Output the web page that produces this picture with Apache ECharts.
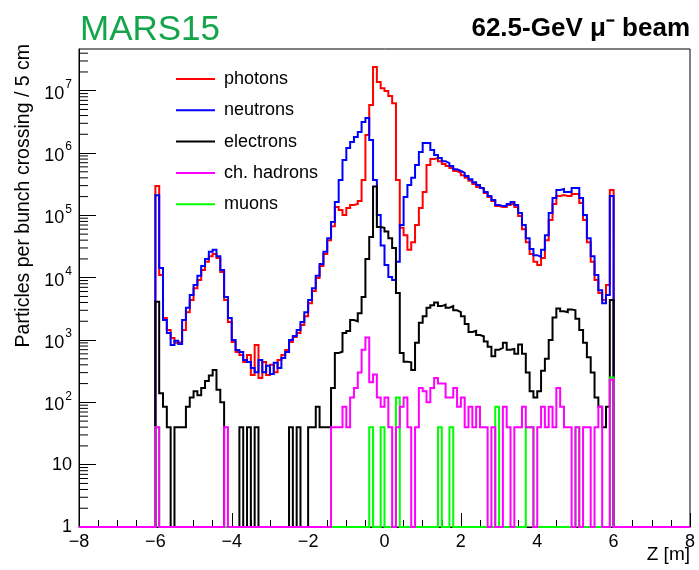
<!DOCTYPE html>
<html>
<head>
<meta charset="utf-8">
<script src="https://cdn.jsdelivr.net/npm/echarts@6/dist/echarts.min.js"></script>
<style>
  html, body { margin: 0; padding: 0; background: #ffffff; }
  #chart { width: 699px; height: 570px; }
</style>
</head>
<body>
<div id="chart"></div>
<script>
// Histogram binning: 10 cm bins from Z = -6 m to Z = +6 m
const zStart = -6;
const binWidth = 0.1;
const zMin = -8;
const zMax = 8;
const yMin = 1;
const yMax = 4.67e7;

// Particles per bunch crossing / 5 cm, one value per bin (0 = empty bin)
const photons = [
  2.96e5, 1.1e4, 2.25e3, 1.45e3, 1.08e3, 900, 930, 1.45e3, 2.8e3, 4.4e3,
  6.8e3, 9.2e3, 1.33e4, 1.8e4, 2.2e4, 2.4e4, 2.07e4, 1.23e4, 4.4e3, 1.95e3,
  930, 640, 575, 445, 575, 275, 830, 245, 445, 275,
  400, 305, 480, 575, 690, 930, 1.12e3, 1.3e3, 1.74e3, 2.4e3,
  3.9e3, 6.1e3, 9.9e3, 1.54e4, 2.4e4, 4.0e4, 6.7e4, 1.36e5, 1.22e5, 1.01e5,
  1.31e5, 1.47e5, 1.52e5, 1.7e5, 3.7e5, 1.95e6, 5.9e6, 2.4e7, 1.38e7, 1.1e7,
  9.9e6, 8.2e6, 6.3e6, 3.7e5, 6.3e4, 4.8e4, 2.8e4, 3.7e4, 7.0e4, 1.31e5,
  2.37e5, 6.4e5, 8.0e5, 8.3e5, 7.4e5, 6.7e5, 6.2e5, 5.75e5, 5.15e5, 4.8e5,
  4.4e5, 4.0e5, 3.6e5, 3.2e5, 2.85e5, 2.65e5, 2.28e5, 1.97e5, 1.7e5, 1.41e5,
  1.36e5, 1.36e5, 1.47e5, 1.58e5, 1.36e5, 9.8e4, 6.0e4, 3.7e4, 2.4e4, 1.8e4,
  1.6e4, 2.07e4, 4.0e4, 8.4e4, 1.52e5, 2.04e5, 2.12e5, 2.04e5, 2.04e5, 2.2e5,
  2.2e5, 1.58e5, 8.4e4, 3.7e4, 1.8e4, 9.2e3, 5.7e3, 4.4e3, 7.6e3, 2.55e5
];

const neutrons = [
  2.1e5, 1.43e4, 2.1e3, 1.3e3, 830, 970, 860, 2.1e3, 3.3e3, 5.3e3,
  7.6e3, 1.07e4, 1.54e4, 2.0e4, 2.6e4, 2.8e4, 2.2e4, 1.33e4, 4.9e3, 2.25e3,
  1.0e3, 690, 640, 480, 445, 355, 305, 480, 305, 385,
  285, 430, 355, 515, 640, 1.0e3, 1.16e3, 1.45e3, 1.95e3, 2.8e3,
  4.4e3, 6.8e3, 1.07e4, 1.66e4, 2.6e4, 4.3e4, 7.8e4, 1.64e5, 3.7e5, 7.7e5,
  1.2e6, 1.5e6, 1.81e6, 2.17e6, 3.15e6, 3.65e6, 1.62e6, 3.7e5, 1.01e5, 3.3e4,
  1.6e4, 1.03e4, 9.2e3, 1.8e4, 7.0e4, 1.97e5, 3.07e5, 4.0e5, 6.4e5, 1.04e6,
  1.45e6, 1.45e6, 1.12e6, 9.3e5, 8.3e5, 7.4e5, 6.9e5, 6.2e5, 5.5e5, 5.15e5,
  4.8e5, 4.3e5, 3.8e5, 3.4e5, 3.07e5, 2.75e5, 2.37e5, 2.04e5, 1.76e5, 1.47e5,
  1.41e5, 1.41e5, 1.52e5, 1.64e5, 1.47e5, 1.09e5, 7.0e4, 4.3e4, 2.9e4, 2.3e4,
  2.15e4, 2.8e4, 4.8e4, 1.09e5, 1.9e5, 2.55e5, 2.65e5, 2.37e5, 2.37e5, 2.75e5,
  2.75e5, 1.9e5, 1.01e5, 4.3e4, 2.2e4, 1.1e4, 6.3e3, 3.9e3, 5.3e3, 2.04e5
];

const electrons = [
  4100, 140, 85, 40, 0, 40, 40, 40, 85, 120,
  150, 130, 170, 220, 270, 330, 160, 100, 0, 0,
  0, 0, 40, 0, 40, 0, 40, 0, 0, 0,
  0, 0, 0, 0, 0, 40, 0, 40, 0, 0,
  40, 40, 85, 40, 40, 40, 170, 620, 650, 1300,
  1400, 2100, 2000, 2700, 4900, 2.0e4, 4.5e4, 2.9e5, 6.5e4, 6.3e4,
  5.5e4, 4.3e4, 3.0e4, 5700, 620, 450, 440, 330, 900, 1900,
  2400, 3300, 3600, 4000, 3500, 3700, 3300, 3500, 3000, 2800,
  2400, 1800, 1350, 1400, 1200, 1150, 950, 780, 550, 700,
  750, 900, 700, 720, 600, 850, 600, 300, 150, 120,
  150, 320, 500, 1000, 2300, 3200, 2900, 2800, 3100, 3000,
  2200, 1450, 900, 530, 300, 120, 85, 40, 85, 4400
];

const chHadrons = [
  40, 0, 0, 0, 0, 0, 0, 0, 0, 0,
  0, 0, 0, 0, 0, 0, 0, 0, 40, 0,
  0, 0, 0, 0, 0, 0, 0, 0, 0, 0,
  0, 0, 0, 0, 0, 0, 0, 0, 0, 0,
  0, 0, 0, 0, 0, 0, 40, 40, 40, 85,
  40, 120, 170, 300, 700, 1100, 210, 280, 120, 85,
  120, 40, 0, 40, 85, 120, 40, 0, 40, 170,
  150, 100, 170, 245, 200, 200, 120, 120, 170, 85,
  120, 40, 85, 40, 85, 40, 40, 0, 40, 0,
  0, 85, 40, 0, 40, 40, 85, 40, 40, 0,
  40, 85, 40, 85, 40, 170, 85, 40, 40, 0,
  40, 0, 40, 40, 0, 40, 85, 0, 0, 230
];

const muons = [
  40, 0, 0, 0, 0, 0, 0, 0, 0, 0,
  0, 0, 0, 0, 0, 0, 0, 0, 0, 0,
  0, 0, 0, 0, 0, 0, 0, 0, 0, 0,
  0, 0, 0, 0, 0, 0, 0, 0, 0, 0,
  0, 0, 0, 0, 0, 0, 0, 0, 0, 0,
  0, 0, 0, 0, 0, 0, 40, 0, 0, 40,
  0, 0, 0, 120, 0, 0, 0, 0, 0, 0,
  0, 0, 0, 0, 40, 0, 0, 40, 0, 0,
  0, 0, 0, 0, 0, 0, 0, 0, 0, 85,
  0, 0, 0, 0, 0, 0, 0, 40, 40, 0,
  0, 0, 0, 0, 0, 0, 0, 0, 0, 0,
  40, 0, 0, 0, 0, 0, 0, 0, 0, 250
];

const seriesNames = ['photons', 'neutrons', 'electrons', 'ch. hadrons', 'muons'];
const seriesColors = ['#ff0000', '#0000ff', '#000000', '#ff00ff', '#00ff00'];

const FONT = '"Liberation Sans", Arial, Helvetica, sans-serif';

// Step outline of a histogram; empty bins sit on the axis floor like a log-scale histogram
function histogramOutline(values) {
  const pts = [[zMin, yMin]];
  values.forEach(function (v, i) {
    pts.push([+(zStart + i * binWidth).toFixed(3), v > 0 ? v : yMin]);
  });
  pts.push([+(zStart + values.length * binWidth).toFixed(3), yMin]);
  pts.push([zMax, yMin]);
  return pts;
}

function histSeries(name, values, color) {
  return {
    name: name,
    type: 'line',
    step: 'end',
    data: histogramOutline(values),
    showSymbol: false,
    symbol: 'none',
    clip: false,
    lineStyle: { color: color, width: 2, join: 'miter' },
    itemStyle: { color: color },
    emphasis: { disabled: true },
    animation: false
  };
}

// Log-scale minor ticks at 2..9 x 10^k along the left axis
const minorTickValues = [];
for (let k = 0; k < 8; k++) {
  for (let m = 2; m <= 9; m++) {
    const v = m * Math.pow(10, k);
    if (v < yMax) minorTickValues.push([zMin, v]);
  }
}

const chart = echarts.init(document.getElementById('chart'), null, { renderer: 'canvas' });

const option = {
  animation: false,
  backgroundColor: '#ffffff',
  grid: {
    left: 79, top: 49, right: 9, bottom: 43,
    show: true, borderColor: '#000000', borderWidth: 1, backgroundColor: 'transparent'
  },
  legend: {
    data: seriesNames,
    orient: 'vertical',
    left: 176,
    top: 69,
    padding: 0,
    itemWidth: 39,
    itemHeight: 2,
    itemGap: 11.3,
    icon: 'rect',
    selectedMode: false,
    textStyle: { fontFamily: FONT, fontSize: 18, color: '#000000', lineHeight: 20, padding: [0, 0, 0, 4] }
  },
  xAxis: {
    type: 'value',
    min: zMin,
    max: zMax,
    interval: 2,
    axisLine: { show: true, onZero: false, lineStyle: { color: '#000000', width: 1 } },
    axisTick: { show: true, inside: true, length: 14, lineStyle: { color: '#000000', width: 1 } },
    minorTick: { show: true, splitNumber: 4, length: 7, lineStyle: { color: '#000000', width: 1 } },
    splitLine: { show: false },
    axisLabel: {
      fontFamily: FONT, fontSize: 18, color: '#000000', margin: 6,
      formatter: function (v) { return v < 0 ? '\u2212' + Math.abs(v) : String(v); }
    }
  },
  yAxis: {
    type: 'log',
    logBase: 10,
    min: yMin,
    max: yMax,
    axisLine: { show: true, onZero: false, lineStyle: { color: '#000000', width: 1 } },
    axisTick: { show: true, inside: true, length: 17, lineStyle: { color: '#000000', width: 1 } },
    splitLine: { show: false },
    axisLabel: {
      fontFamily: FONT, fontSize: 18, color: '#000000', margin: 7,
      showMaxLabel: false,
      formatter: function (v) {
        const e = Math.log10(v);
        if (Math.abs(e - Math.round(e)) > 1e-6) return '';
        const n = Math.round(e);
        if (n === 0) return '1';
        if (n === 1) return '10';
        return '{b|10}{s|' + n + '}';
      },
      rich: {
        b: { fontFamily: FONT, fontSize: 18, color: '#000000', lineHeight: 24, verticalAlign: 'bottom' },
        s: { fontFamily: FONT, fontSize: 12, color: '#000000', lineHeight: 24, verticalAlign: 'top', padding: [0, 0, 0, 1] }
      }
    }
  },
  series: [
    histSeries(seriesNames[0], photons, seriesColors[0]),
    histSeries(seriesNames[1], neutrons, seriesColors[1]),
    histSeries(seriesNames[2], electrons, seriesColors[2]),
    histSeries(seriesNames[4], muons, seriesColors[4]),
    histSeries(seriesNames[3], chHadrons, seriesColors[3]),
    {
      type: 'custom',
      silent: true,
      clip: false,
      data: minorTickValues,
      renderItem: function (params, api) {
        const p = api.coord([api.value(0), api.value(1)]);
        return {
          type: 'line',
          shape: { x1: p[0], y1: p[1], x2: p[0] + 9, y2: p[1] },
          style: { stroke: '#000000', lineWidth: 1 }
        };
      },
      animation: false
    }
  ],
  graphic: [
    {
      type: 'text', left: 80, top: 13,
      style: { text: 'MARS15', fill: '#14a54b', font: '35px ' + FONT }
    },
    {
      type: 'text', right: 9, top: 16,
      style: { text: '62.5-GeV \u03bc\u207b beam', fill: '#000000', font: 'bold 26px ' + FONT }
    },
    {
      type: 'text', right: 9, top: 545,
      style: { text: 'Z [m]', fill: '#000000', font: '19px ' + FONT }
    },
    {
      type: 'text', x: 24, y: 44, rotation: Math.PI / 2,
      style: { text: 'Particles per bunch crossing / 5 cm', fill: '#000000', font: '19.5px ' + FONT, align: 'right', verticalAlign: 'middle' }
    }
  ]
};

chart.setOption(option);
</script>
</body>
</html>
